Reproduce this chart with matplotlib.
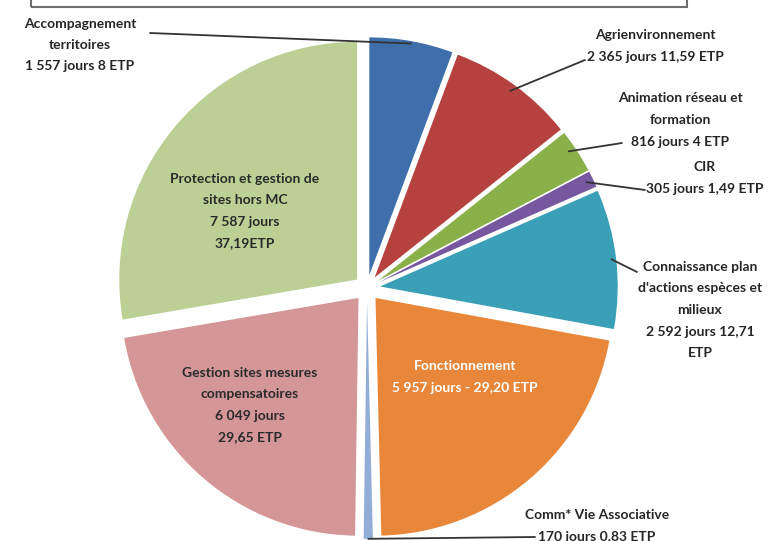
# pie chart of days / ETP per activity, exploded slices with leader lines
import numpy as np
import matplotlib.pyplot as plt
from matplotlib.patches import Rectangle

activites = ['Accompagnement\nterritoires', 'Agrienvironnement', 'Animation réseau et\nformation',
             'CIR', "Connaissance plan\nd'actions espèces et\nmilieux", 'Fonctionnement',
             'Comm* Vie Associative', 'Gestion sites mesures\ncompensatoires',
             'Protection et gestion de\nsites hors MC']
jours = [1557, 2365, 816, 305, 2592, 5957, 170, 6049, 7587]
jours_txt = ['1 557 jours 8 ETP', '2 365 jours 11,59 ETP', '816 jours 4 ETP', '305 jours 1,49 ETP',
             '2 592 jours 12,71\nETP', '5 957 jours - 29,20 ETP', '170 jours 0,83 ETP',
             '6 049 jours\n29,65 ETP', '7 587 jours\n37,19ETP']
couleurs = ['#3F6FAA', '#B6423F', '#8AB04A', '#7758A0', '#3AA0B8', '#E8873A',
            '#93AED6', '#D49697', '#BCD095']

W, H = 779, 541
fig = plt.figure(figsize=(W / 100, H / 100), dpi=100)
plt.rcParams['font.family'] = ['Lato', 'DejaVu Sans']

# pie centre ~ (367, 288) px, radius ~ 240 px
cx, cy, half = 367, 288, 252
ax = fig.add_axes([(cx - half) / W, (H - cy - half) / H, 2 * half / W, 2 * half / H])
wedges, _ = ax.pie(jours, colors=couleurs, startangle=90, counterclock=False,
                   explode=[0.055] * len(jours), radius=1.0,
                   wedgeprops=dict(linewidth=0))
ax.set_xlim(-1.06, 1.06)
ax.set_ylim(-1.06, 1.06)
ax.set_aspect('equal')
ax.axis('off')

# truncated title box at the top
fig.patches.append(Rectangle((31 / W, 1 - 7 / H), (687 - 31) / W, 20 / H, transform=fig.transFigure,
                             fill=False, edgecolor='#6e6e6e', linewidth=1.5))

def px(x, y):
    return (x / W, 1 - y / H)

def point(w, frac=0.5, r=0.97):
    ang = np.radians(w.theta1 + frac * (w.theta2 - w.theta1))
    return (w.center[0] + r * np.cos(ang), w.center[1] + r * np.sin(ang))

txt_kw = dict(fontsize=10, fontweight='bold', color='#262626', ha='center', va='center',
              linespacing=1.95)
line_kw = dict(arrowstyle='-', color='#333333', lw=1.3, shrinkA=0, shrinkB=0)

# labels inside the big slices
inside = {8: ((245, 211), '#2a2a2a'), 7: ((250, 405), '#2a2a2a'), 5: ((465, 377), 'white')}
for i, ((x, y), c) in inside.items():
    kw = dict(txt_kw)
    kw['color'] = c
    fig.text(*px(x, y), activites[i] + '\n' + jours_txt[i], **kw)

# labels outside with leader lines: (index, text centre, line start, where on wedge, radius)
outside = [
    (0, (80, 45), (150, 33), 0.5, 0.99),
    (1, (655, 46), (585, 60), 0.5, 0.97),
    (2, (680, 120), (622, 143), 0.6, 0.97),
    (3, (705, 178), (645, 190), 0.5, 0.97),
    (4, (700, 310), (637, 272), 0.5, 0.98),
    (6, (597, 526), (535, 537), 0.5, 1.0),
]
for i, tpos, lstart, frac, r in outside:
    fig.text(*px(*tpos), activites[i] + '\n' + jours_txt[i], **txt_kw)
    ax.annotate('', xy=point(wedges[i], frac, r), xycoords='data',
                xytext=px(*lstart), textcoords='figure fraction', arrowprops=line_kw)

plt.savefig('out.png', dpi=100)
